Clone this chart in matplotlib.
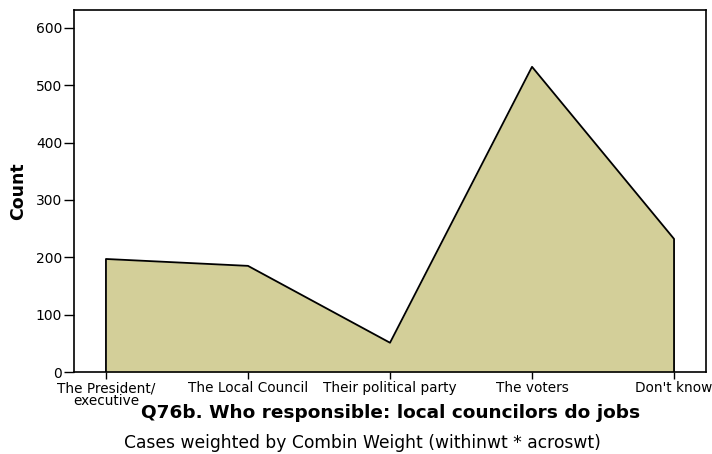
import matplotlib
matplotlib.use("Agg")
import matplotlib.pyplot as plt

categories = ["The President/\nexecutive", "The Local Council", "Their political party",
              "The voters", "Don't know"]
counts = [197, 185, 51, 532, 232]
yticks = [0, 100, 200, 300, 400, 500, 600]

plt.rcParams["font.family"] = ["DejaVu Sans"]

fig = plt.figure(figsize=(7.12, 4.54), dpi=100)
ax = fig.add_axes([74 / 712, 1 - 372 / 454, 632 / 712, 362 / 454])

x = list(range(len(categories)))
ax.fill_between(x, 0, counts, color="#d3cf99", linewidth=0)
ax.plot([x[0]] + x + [x[-1]], [0] + counts + [0], color="black", linewidth=1.3)

ax.set_xlim(-0.225, len(categories) - 1 + 0.225)
ax.set_ylim(0, 631)
ax.set_xticks(x)
ax.set_xticklabels(categories, fontsize=9.8, linespacing=0.95)
ax.set_yticks(yticks)
ax.set_yticklabels([str(v) for v in yticks], fontsize=10)
ax.tick_params(axis="x", direction="out", length=5, width=1.0, color="black", pad=1.5)
ax.tick_params(axis="y", direction="out", length=7, width=1.0, color="black", pad=1.5)
for s in ax.spines.values():
    s.set_linewidth(1.2)

ax.set_ylabel("Count", fontsize=12.5, fontweight="bold")
ax.yaxis.set_label_coords((27 - 74) / 632, 0.5)
ax.set_xlabel("Q76b. Who responsible: local councilors do jobs", fontsize=13.3,
              fontweight="bold", va="center")
ax.xaxis.set_label_coords((391 - 74) / 632, (372 - 413) / 362)
fig.text(362 / 712, 1 - 443 / 454, "Cases weighted by Combin Weight (withinwt * acroswt)",
         ha="center", va="center", fontsize=12.3)

fig.savefig("out.png", dpi=100)
